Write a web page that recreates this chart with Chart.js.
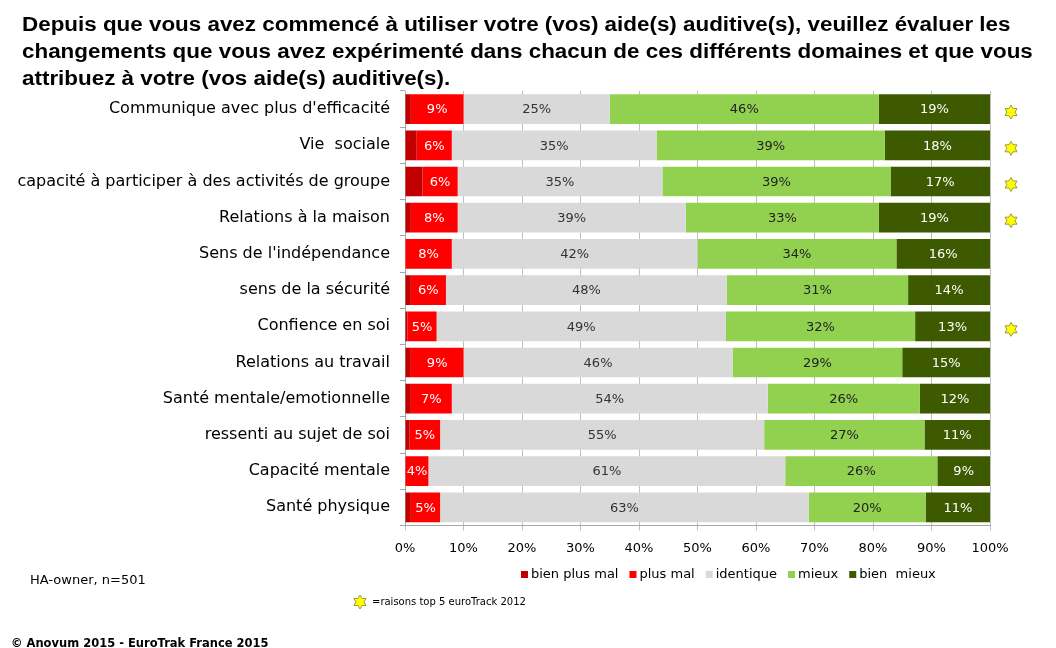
<!DOCTYPE html>
<html>
<head>
<meta charset="utf-8">
<script src="https://cdn.jsdelivr.net/npm/chart.js@4/dist/chart.umd.min.js"></script>
<style>
  html, body { margin: 0; padding: 0; background: #fff; }
  #wrap { width: 1056px; height: 648px; position: relative; }
</style>
</head>
<body>
<div id="wrap"><canvas id="chart" width="1056" height="648"></canvas></div>
<script>
// categories and series (percentages, labels are shown rounded)
const categories = [
    "Communique avec plus d'efficacité",
    'Vie  sociale',
    'capacité à participer à des activités de groupe',
    'Relations à la maison',
    "Sens de l'indépendance",
    'sens de la sécurité',
    'Confience en soi',
    'Relations au travail',
    'Santé mentale/emotionnelle',
    'ressenti au sujet de soi',
    'Capacité mentale',
    'Santé physique'
];
const bienPlusMal = [1, 2, 3, 1, 0, 1, 0.4, 1, 1, 0.8, 0, 1];
const plusMal     = [9, 6, 6, 8, 8, 6, 5, 9, 7, 5.2, 4, 5];
const identique   = [25, 35, 35, 39, 42, 48, 49.4, 46, 54, 55.4, 61, 63];
const mieux       = [46, 39, 39, 33, 34, 31, 32.4, 29, 26, 27.4, 26, 20];
const bienMieux   = [19, 18, 17, 19, 16, 14, 12.8, 15, 12, 11.2, 9, 11];
const starred     = [true, true, true, true, false, false, true, false, false, false, false, false];

const titleLines = [
    'Depuis que vous avez commencé à utiliser votre (vos) aide(s) auditive(s), veuillez évaluer les',
    'changements que vous avez expérimenté dans chacun de ces différents domaines et que vous',
    'attribuez à votre (vos aide(s) auditive(s).'
];

const seriesColors = ['#C00000', '#FF0000', '#D9D9D9', '#92D050', '#3D5A00'];
const labelColors  = [null, '#ffffff', '#333333', '#222222', '#ffffff'];
const seriesNames  = ['bien plus mal', 'plus mal', 'identique', 'mieux', 'bien  mieux'];

function drawStar(ctx, cx, cy, r) {
    // six-pointed star
    ctx.save();
    ctx.beginPath();
    for (let i = 0; i < 12; i++) {
        const a = -Math.PI / 2 + i * Math.PI / 6;
        const rr = i % 2 === 0 ? r : r * 0.58;
        const x = cx + rr * Math.cos(a), y = cy + rr * Math.sin(a);
        if (i === 0) ctx.moveTo(x, y); else ctx.lineTo(x, y);
    }
    ctx.closePath();
    ctx.fillStyle = '#FFFF00';
    ctx.fill();
    ctx.strokeStyle = '#9a9a40';
    ctx.lineWidth = 1;
    ctx.stroke();
    ctx.restore();
}

const extras = {
    id: 'extras',
    afterDatasetsDraw(chart) {
        const ctx = chart.ctx;
        // value labels
        ctx.save();
        ctx.font = '13px "DejaVu Sans"';
        ctx.textAlign = 'center';
        ctx.textBaseline = 'middle';
        chart.data.datasets.forEach((ds, i) => {
            if (!labelColors[i]) return;
            chart.getDatasetMeta(i).data.forEach((bar, j) => {
                const v = Math.round(ds.data[j]);
                if (!v) return;
                const left = Math.min(bar.x, bar.base);
                const w = Math.abs(bar.x - bar.base);
                ctx.fillStyle = labelColors[i];
                ctx.fillText(v + '%', left + w / 2, bar.y + 1);
            });
        });
        ctx.restore();

        // stars
        const yScale = chart.scales.y;
        starred.forEach((s, j) => {
            if (s) drawStar(ctx, 1011, yScale.getPixelForValue(j) + 3, 7);
        });
    },
    afterDraw(chart) {
        const ctx = chart.ctx;
        ctx.save();
        // title (slightly stretched like the original)
        ctx.fillStyle = '#000';
        ctx.font = 'bold 20px "Liberation Sans"';
        ctx.textAlign = 'left';
        ctx.textBaseline = 'alphabetic';
        titleLines.forEach((t, i) => {
            ctx.save();
            ctx.translate(22, 31 + i * 27);
            ctx.scale(1.12, 1);
            ctx.fillText(t, 0, 0);
            ctx.restore();
        });

        // legend
        ctx.font = '13px "DejaVu Sans"';
        ctx.textBaseline = 'middle';
        let x = 521;
        const ly = 575;
        seriesNames.forEach((n, i) => {
            ctx.fillStyle = seriesColors[i];
            ctx.fillRect(x, ly - 4, 7, 7);
            ctx.fillStyle = '#000';
            ctx.fillText(n, x + 10, ly);
            x += 10 + ctx.measureText(n).width + 11;
        });

        // notes
        ctx.font = '13px "DejaVu Sans"';
        ctx.fillText('HA-owner, n=501', 30, 581);
        drawStar(ctx, 360, 602, 7);
        ctx.font = '10px "DejaVu Sans"';
        ctx.fillText('=raisons top 5 euroTrack 2012', 372, 602);
        ctx.font = 'bold 11.5px "DejaVu Sans"';
        ctx.textBaseline = 'alphabetic';
        ctx.fillText('© Anovum 2015 - EuroTrak France 2015', 11, 647);
        ctx.restore();
    }
};

new Chart(document.getElementById('chart'), {
    type: 'bar',
    data: {
        labels: categories,
        datasets: [bienPlusMal, plusMal, identique, mieux, bienMieux].map((d, i) => ({
            label: seriesNames[i],
            data: d,
            backgroundColor: seriesColors[i],
            borderWidth: 0,
            barPercentage: 0.82,
            categoryPercentage: 1
        }))
    },
    options: {
        indexAxis: 'y',
        responsive: false,
        animation: false,
        layout: { padding: { top: 91, right: 66, bottom: 82, left: 0 } },
        plugins: {
            legend: { display: false },
            tooltip: { enabled: false },
            title: { display: false }
        },
        scales: {
            x: {
                stacked: true,
                min: 0,
                max: 100,
                ticks: {
                    stepSize: 10,
                    callback: v => v + '%',
                    color: '#000',
                    font: { family: 'DejaVu Sans', size: 13 },
                    padding: 10
                },
                grid: { color: '#bfbfbf', tickLength: 5 },
                border: { color: '#a6a6a6' }
            },
            y: {
                stacked: true,
                afterFit(scale) { scale.width = 405; },
                ticks: {
                    color: '#000',
                    font: { family: 'DejaVu Sans', size: 16 },
                    padding: 10
                },
                grid: { offset: true, drawOnChartArea: false, color: '#a6a6a6', tickLength: 5 },
                border: { color: '#a6a6a6' }
            }
        }
    },
    plugins: [extras]
});
</script>
</body>
</html>
